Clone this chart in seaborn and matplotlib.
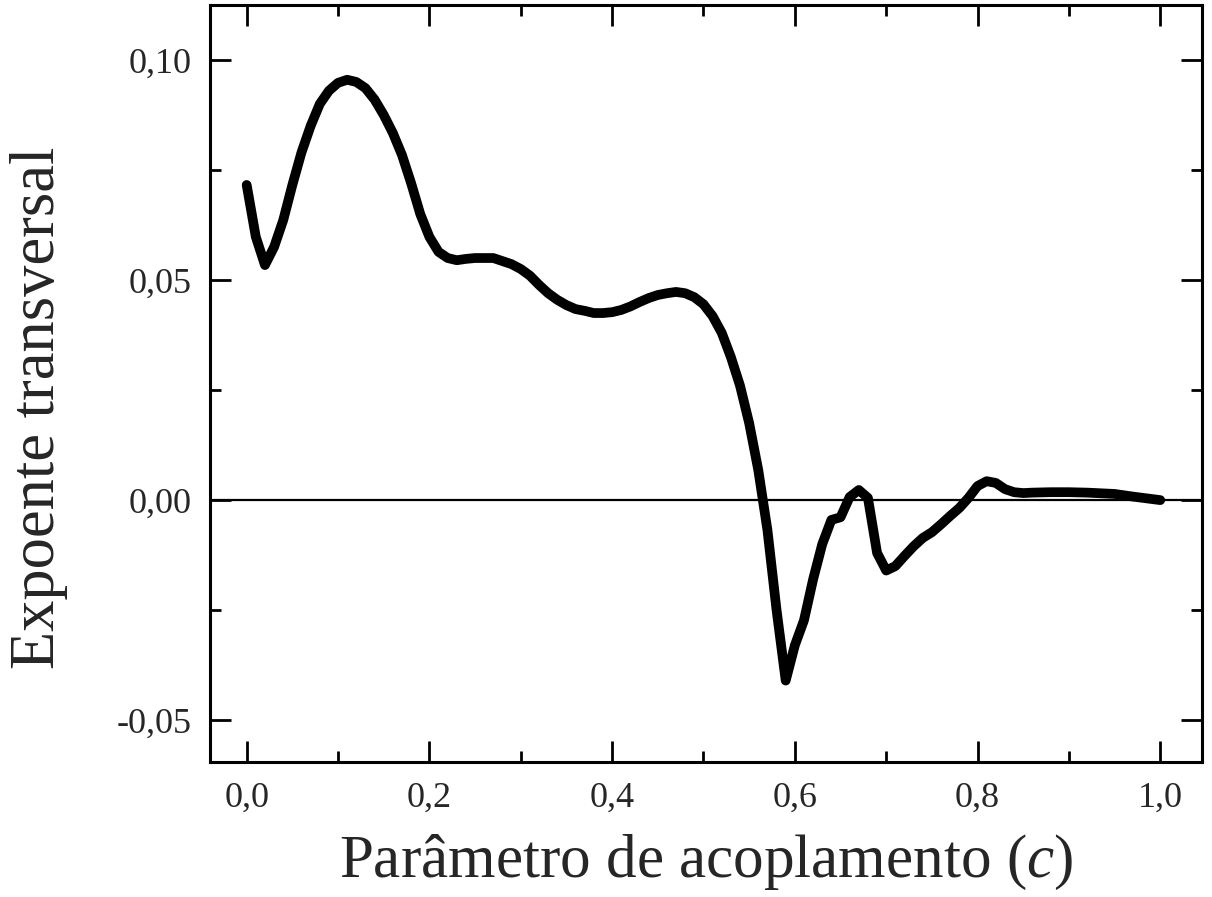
import numpy as np
import pandas as pd
import seaborn as sns
import matplotlib.pyplot as plt
from matplotlib.ticker import FuncFormatter, MultipleLocator

# valores
c = [0.00, 0.01, 0.02, 0.03, 0.04, 0.05, 0.06, 0.07, 0.08, 0.09,
     0.10, 0.11, 0.12, 0.13, 0.14, 0.15, 0.16, 0.17, 0.18, 0.19,
     0.20, 0.21, 0.22, 0.23, 0.24, 0.25, 0.26, 0.27, 0.28, 0.29,
     0.30, 0.31, 0.32, 0.33, 0.34, 0.35, 0.36, 0.37, 0.38, 0.39,
     0.40, 0.41, 0.42, 0.43, 0.44, 0.45, 0.46, 0.47, 0.48, 0.49,
     0.50, 0.51, 0.52, 0.53, 0.54, 0.55, 0.56, 0.57, 0.58, 0.59,
     0.60, 0.61, 0.62, 0.63, 0.64, 0.65, 0.66, 0.67, 0.68, 0.69,
     0.70, 0.71, 0.72, 0.73, 0.74, 0.75, 0.76, 0.77, 0.78, 0.79,
     0.80, 0.81, 0.82, 0.83, 0.84, 0.85, 0.86, 0.88, 0.90, 0.92,
     0.95, 0.97, 1.00]
expoente = [0.0716, 0.0598, 0.0534, 0.0575, 0.0636, 0.0716, 0.0790, 0.0850, 0.0900, 0.0930,
            0.0948, 0.0955, 0.0950, 0.0936, 0.0910, 0.0875, 0.0834, 0.0784, 0.0720, 0.0650,
            0.0598, 0.0564, 0.0550, 0.0545, 0.0548, 0.0550, 0.0550, 0.0550, 0.0543, 0.0536,
            0.0525, 0.0510, 0.0489, 0.0470, 0.0455, 0.0443, 0.0434, 0.0430, 0.0425, 0.0425,
            0.0427, 0.0432, 0.0440, 0.0450, 0.0459, 0.0466, 0.0470, 0.0473, 0.0470, 0.0461,
            0.0445, 0.0418, 0.0380, 0.0325, 0.0260, 0.0175, 0.0068, -0.0068, -0.0250, -0.0410,
            -0.0330, -0.0273, -0.0180, -0.0100, -0.0045, -0.0039, 0.0007, 0.0023, 0.0005, -0.0120,
            -0.0160, -0.0150, -0.0127, -0.0105, -0.0086, -0.0073, -0.0055, -0.0036, -0.0018, 0.0005,
            0.0032, 0.0043, 0.0039, 0.0025, 0.0018, 0.0016, 0.0017, 0.0018, 0.0018, 0.0017,
            0.0014, 0.0008, 0.0000]

dados = pd.DataFrame({'c': c, 'expoente': expoente})

sns.set_style('ticks')
plt.rcParams['font.family'] = ['Liberation Serif', 'DejaVu Serif']
plt.rcParams['mathtext.fontset'] = 'custom'
plt.rcParams['mathtext.rm'] = 'Liberation Serif'
plt.rcParams['mathtext.it'] = 'Liberation Serif:italic'

fig = plt.figure(figsize=(12.12, 8.97), dpi=100)
ax = fig.add_axes([0.173, 0.1505, 0.819, 0.844])

ax.axhline(0, color='black', lw=1.6, zorder=1)
sns.lineplot(data=dados, x='c', y='expoente', color='black', lw=7, ax=ax,
             solid_capstyle='round', solid_joinstyle='round', zorder=2)

ax.set_xlim(-0.0405, 1.046)
ax.set_ylim(-0.0595, 0.1125)

ax.xaxis.set_major_locator(MultipleLocator(0.2))
ax.xaxis.set_minor_locator(MultipleLocator(0.1))
ax.yaxis.set_major_locator(MultipleLocator(0.05))
ax.yaxis.set_minor_locator(MultipleLocator(0.025))
ax.xaxis.set_major_formatter(FuncFormatter(lambda v, p: ('%.1f' % v).replace('.', ',')))
ax.yaxis.set_major_formatter(FuncFormatter(lambda v, p: ('%.2f' % v).replace('.', ',').replace('-0,00', '0,00')))

ax.tick_params(which='both', direction='in', top=True, right=True, width=2, color='black')
ax.tick_params(which='major', length=15, labelsize=26)
ax.tick_params(axis='x', which='major', pad=14)
ax.tick_params(axis='y', which='major', pad=13)
ax.tick_params(which='minor', length=8)
for s in ax.spines.values():
    s.set_linewidth(2.2)
    s.set_color('black')

ax.set_xlabel('Parâmetro de acoplamento ($c$)', fontsize=44)
ax.set_ylabel('Expoente transversal', fontsize=45)
ax.xaxis.set_label_coords(0.5, -0.094)
ax.yaxis.set_label_coords(-0.143, 0.468)

fig.savefig('out.png', dpi=100)
